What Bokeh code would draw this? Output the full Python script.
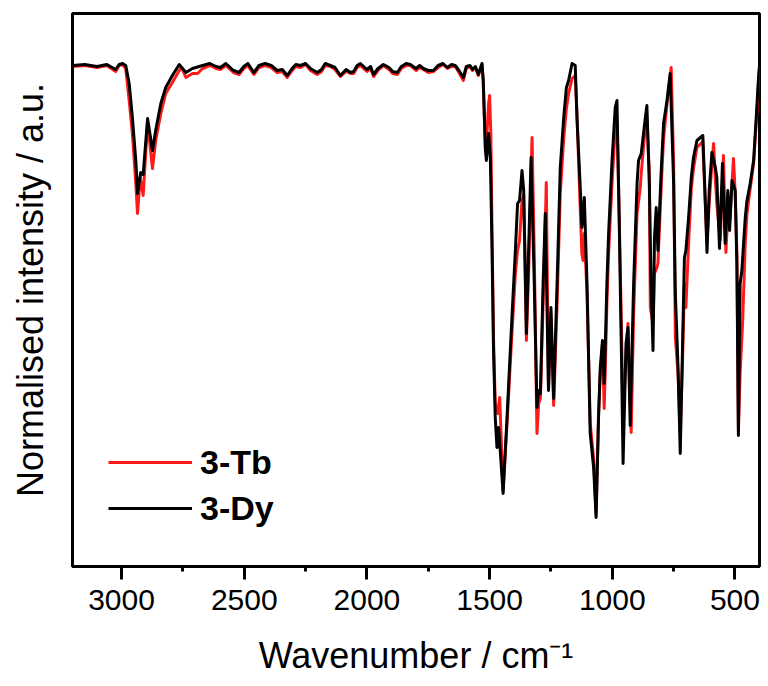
from bokeh.plotting import figure
from bokeh.models import Range1d, Legend, LegendItem, FixedTicker, Arrow
from bokeh.embed import file_html
from bokeh.resources import INLINE

# ---------------- data ----------------
dy_wn = [3200, 3150, 3100, 3060, 3024, 3010, 2996, 2983, 2969, 2956, 2942, 2935, 2922, 2912,
         2894, 2874, 2861, 2840, 2820, 2793, 2765, 2738, 2711,
         2670, 2640, 2615, 2597, 2575, 2544, 2521, 2502, 2485, 2461,
         2440, 2415, 2390, 2366, 2345, 2325, 2305, 2290, 2271, 2250,
         2230, 2203, 2185, 2170, 2149, 2130, 2108, 2085, 2067, 2054,
         2040, 2027, 2000, 1985, 1973, 1955, 1933, 1910, 1895, 1876,
         1860, 1840, 1823, 1800, 1785, 1770, 1750, 1729, 1710, 1690,
         1672, 1655, 1640, 1625, 1607, 1595, 1580, 1570, 1558, 1546, 1531,
         1526, 1517, 1513,
         1504, 1497, 1490, 1484, 1477, 1470, 1463, 1445, 1429, 1409, 1395, 1386, 1378, 1368,
         1361, 1350, 1341, 1331, 1318, 1307, 1300, 1293, 1282, 1273, 1260, 1250, 1239, 1225,
         1212, 1198, 1187, 1178, 1164, 1151, 1144, 1130, 1124, 1114, 1103, 1090, 1076, 1066,
         1056, 1049, 1040, 1033, 1029, 1022, 1015, 1001, 988, 981, 972, 963, 956, 944, 936,
         927, 913, 899, 893, 882, 868, 859, 849, 842, 834, 828, 821, 814, 800, 791, 777, 764,
         750, 743, 732, 723, 714, 706, 700, 689, 678, 669, 655, 631, 621, 614, 605, 594, 580,
         574, 563, 551, 540, 529, 522, 512, 499, 492, 486, 479, 472, 458, 451, 438, 424, 411,
         404, 400]
dy_val = [99.6, 99.8, 99.4, 99.8, 98.8, 99.8, 100, 99.6, 96, 89.2, 80.6, 74, 78.2, 77.8,
          89, 82.6, 86.6, 92, 95.2, 97.6, 99.8, 98.2, 99,
          99.6, 100, 99.4, 99.2, 100, 98.6, 98.2, 99.4, 100, 98.2,
          99.6, 100, 99.6, 98.6, 98.8, 97.6, 99, 99.8, 99.6, 100,
          99, 98.2, 98.8, 100, 99.6, 99.2, 97.6, 98.8, 98.2, 98.4,
          99.6, 100, 98.8, 99.4, 97.8, 99, 99.8, 99.2, 98.4, 98.2,
          99.4, 100, 99.8, 99, 99.6, 99, 98.6, 98.6, 99.6, 100,
          99.2, 99.8, 99.6, 98.6, 97.2, 99.4, 99.6, 98.8, 99.4, 97.8, 100,
          96.6, 82.6, 80.6,
          86, 81.2, 62.6, 42.6, 29.2, 23.2, 27.2, 14, 29.2, 49.2, 62.6, 72, 72.6, 78.6,
          74.6, 46, 62.6, 81.2, 56, 31.2, 34.6, 34, 56, 70, 34.6, 51.2, 33, 56,
          79.2, 89.2, 95.2, 96.6, 100, 99.6, 89.2, 74.6, 67.2, 73.2, 56, 26, 19.2, 9.2,
          29.2, 39.2, 44.6, 36, 42.6, 56, 66, 80.6, 91.2, 92.6, 69.2, 42.6, 20, 44, 47.2,
          27.6, 56, 76, 80.6, 82, 88, 91.6, 76, 56, 42.6, 65.2, 71.2, 62.6, 79.2, 88, 92.6, 98,
          76, 54, 39.2, 22, 42.6, 61.2, 62.6, 69.2, 77.2, 81.2, 84.6, 85.6, 72.6, 62.2, 74.6, 82.2, 79.2,
          77.2, 63, 80, 64, 74.6, 66.6, 76.6, 74.6, 59.2, 25.6, 56, 58.6, 69.2, 72.6, 76, 80.6, 91.2,
          97.2, 99.6]

tb_wn = [3200, 3150, 3100, 3060, 3024, 3010, 2996, 2983, 2969, 2956, 2942, 2935, 2924, 2912,
         2894, 2874, 2861, 2840, 2820, 2793, 2765, 2755, 2738, 2711, 2690,
         2670, 2640, 2615, 2597, 2575, 2544, 2521, 2502, 2485, 2461,
         2440, 2415, 2390, 2366, 2345, 2325, 2305, 2290, 2271, 2250,
         2230, 2203, 2185, 2170, 2149, 2130, 2108, 2085, 2067, 2054,
         2040, 2027, 2000, 1985, 1973, 1955, 1933, 1910, 1895, 1876,
         1860, 1840, 1823, 1800, 1785, 1770, 1750, 1729, 1710, 1690,
         1672, 1655, 1640, 1625, 1607, 1595, 1580, 1570, 1558, 1546, 1531,
         1526, 1517, 1513, 1504, 1500, 1495, 1490, 1484, 1477, 1467, 1459, 1452, 1445, 1429, 1409,
         1395, 1386, 1378, 1368, 1361, 1350, 1341, 1331, 1327, 1318, 1307, 1300, 1293, 1282,
         1273, 1269, 1260, 1250, 1239, 1225, 1212, 1198, 1187, 1178, 1164, 1151, 1144, 1130,
         1124, 1119, 1114, 1103, 1090, 1076, 1066, 1056, 1049, 1040, 1033, 1029, 1022, 1015,
         1001, 988, 981, 972, 963, 956, 944, 936, 923, 913, 899, 886, 882, 868, 859, 849, 845,
         834, 828, 818, 814, 800, 791, 777, 760, 750, 743, 732, 723, 714, 706, 700, 689, 678,
         669, 655, 631, 621, 614, 605, 594, 587, 580, 574, 560, 551, 547, 537, 529, 522, 512,
         506, 499, 492, 486, 479, 469, 458, 451, 438, 424, 411, 404, 400]
tb_val = [99.4, 99.6, 99.2, 99.6, 98.4, 99.6, 99.8, 99, 92.6, 86, 76, 70, 77.2, 73.6,
          88.2, 79, 84.6, 90, 94, 96.2, 98.6, 99.2, 97.2, 98, 98,
          99, 99.6, 99, 98.8, 99.6, 98.2, 97.8, 99, 99.6, 97.8,
          99.2, 99.6, 99.2, 98.2, 98.4, 97.2, 98.6, 99.4, 99.2, 99.8,
          98.6, 97.8, 98.4, 99.6, 99.4, 98.8, 97.4, 98.4, 98, 98,
          99.2, 99.6, 98.4, 99, 97.4, 98.6, 99.6, 98.8, 98, 97.8,
          99, 99.6, 99.6, 98.6, 99.2, 98.8, 98.2, 98.4, 99.2, 99.8,
          99, 99.4, 99.4, 98.2, 96.6, 99, 99.4, 98.6, 99.2, 97.6, 99.8,
          96.6, 82.6, 84, 92, 93.6, 86, 66, 45, 32, 30, 33.2, 24, 14.6, 28, 46,
          58, 62.6, 64.6, 72.6, 73.6, 44.6, 58, 78, 85.2, 62, 26, 32, 33, 52,
          68, 76.2, 35, 50, 31.6, 52, 74, 85, 91, 94, 97, 97.6, 90, 70,
          62, 60.6, 66, 54, 28, 21, 10, 30, 38, 44, 31, 38, 52, 62,
          76, 87, 89.2, 70, 48, 28.6, 42, 48, 26.2, 50, 70, 75.2, 78, 86, 89.2, 78, 51.2,
          48, 58, 59.2, 60, 76, 85, 92, 99.2, 80, 45.2, 38, 26, 40, 56, 51.2, 64, 75,
          79, 83.2, 84.4, 72, 64, 72, 80, 84, 77, 72, 64.6, 76, 81.6, 62.2, 70, 68, 76,
          81, 74, 62, 26.6, 38, 48, 64, 70, 75, 80, 90, 96, 99.4]

assert len(dy_wn) == len(dy_val), (len(dy_wn), len(dy_val))
assert len(tb_wn) == len(tb_val), (len(tb_wn), len(tb_val))

series_labels = ["3-Tb", "3-Dy"]
x_ticks = [3000, 2500, 2000, 1500, 1000, 500]
x_minor = [2750, 2250, 1750, 1250, 750]

FONT = "Liberation Sans"
Y0, Y1 = -0.6, 110.0          # y range (intensity units; 5 px per unit)

p = figure(width=768, height=686, output_backend="svg", toolbar_location=None,
           x_range=Range1d(3200, 400), y_range=Range1d(Y0, Y1),
           min_border_left=72, min_border_right=9, min_border_top=13, min_border_bottom=120)
p.xgrid.visible = False
p.ygrid.visible = False
p.outline_line_color = "black"
p.outline_line_width = 3
p.outline_line_alpha = 1

r_tb = p.line(tb_wn, tb_val, line_color="#ff1a1a", line_width=3, line_join="round")
r_dy = p.line(dy_wn, dy_val, line_color="black", line_width=3, line_join="round")

xa = p.xaxis[0]
xa.ticker = FixedTicker(ticks=x_ticks, minor_ticks=x_minor)
xa.axis_line_width = 3
xa.axis_line_color = "black"
xa.major_tick_line_color = "black"
xa.major_tick_line_width = 3
xa.major_tick_out = 13
xa.major_tick_in = 1
xa.minor_tick_line_color = "black"
xa.minor_tick_line_width = 3
xa.minor_tick_out = 5
xa.major_label_text_font = FONT
xa.major_label_text_font_size = "30px"
xa.major_label_text_color = "black"
xa.major_label_standoff = 10
xa.axis_label = "Wavenumber / cm\u207b\u00b9"
xa.axis_label_text_font = FONT
xa.axis_label_text_font_size = "36px"
xa.axis_label_text_font_style = "normal"
xa.axis_label_text_color = "black"
xa.axis_label_standoff = 22

# tick marks also drawn as un-clipped annotations (13 px major, 5 px minor, below the frame)
for t in x_ticks:
    p.add_layout(Arrow(end=None, x_start=t, x_end=t, y_start=Y0, y_end=Y0 - 2.6,
                       line_color="black", line_width=3))
for t in x_minor:
    p.add_layout(Arrow(end=None, x_start=t, x_end=t, y_start=Y0, y_end=Y0 - 1.0,
                       line_color="black", line_width=3))

ya = p.yaxis[0]
ya.ticker = FixedTicker(ticks=[-50], minor_ticks=[])
ya.axis_line_width = 3
ya.axis_line_color = "black"
ya.major_tick_line_color = None
ya.minor_tick_line_color = None
ya.major_tick_out = 0
ya.minor_tick_out = 0
ya.axis_label = "Normalised intensity / a.u."
ya.axis_label_text_font = FONT
ya.axis_label_text_font_size = "36px"
ya.axis_label_text_font_style = "normal"
ya.axis_label_text_color = "black"
ya.axis_label_standoff = 22

legend = Legend(items=[LegendItem(label=series_labels[0], renderers=[r_tb]),
                       LegendItem(label=series_labels[1], renderers=[r_dy])],
                location=(36, 38))
legend.label_text_font = FONT
legend.label_text_font_style = "bold"
legend.label_text_font_size = "34px"
legend.label_text_color = "black"
legend.glyph_width = 84
legend.glyph_height = 40
legend.spacing = 6
legend.padding = 0
legend.margin = 0
legend.label_standoff = 8
legend.border_line_color = None
legend.background_fill_alpha = 0
p.add_layout(legend)

open("out.html", "w").write(file_html(p, INLINE))
